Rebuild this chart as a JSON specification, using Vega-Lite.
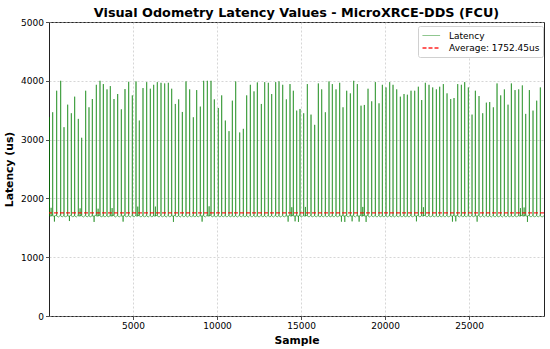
{
"$schema": "https://vega.github.io/schema/vega-lite/v6.json",
"width": 495,
"height": 294,
"autosize": {"type": "none"},
"padding": {"left": 49, "top": 22, "right": 6, "bottom": 33},
"background": "white",
"title": {"text": "Visual Odometry Latency Values - MicroXRCE-DDS (FCU)", "fontSize": 12.8, "fontWeight": "bold", "color": "black", "anchor": "middle", "offset": -2, "font": "DejaVu Sans"},
"config": {
  "font": "DejaVu Sans",
  "view": {"stroke": "#222", "strokeWidth": 1},
  "axis": {"domain": false, "grid": true, "gridDash": [2, 2], "gridColor": "#bbbbbb", "gridWidth": 0.6, "tickColor": "#222", "tickSize": 3.5, "tickWidth": 0.8, "labelFontSize": 9, "labelColor": "black", "labelPadding": 2, "titleFontSize": 10.8, "titleFontWeight": "bold", "titleColor": "black"},
  "legend": {"orient": "none", "legendX": 369, "legendY": 4, "padding": 3.5, "strokeColor": "#d0d0d0", "fillColor": "white", "cornerRadius": 2, "labelFontSize": 9, "labelColor": "black", "symbolType": "M-1,0H2.2", "symbolSize": 121, "rowPadding": 1, "labelOffset": 14.5}
},
"datasets": {
"latency": [
{"sample":0,"latency":1700},
{"sample":19,"latency":1716},{"sample":20,"latency":3380},{"sample":21,"latency":1700},{"sample":124,"latency":1700},{"sample":125,"latency":1840},{"sample":126,"latency":1700},
{"sample":217,"latency":1716},{"sample":218,"latency":3465},{"sample":219,"latency":1700},{"sample":322,"latency":1700},{"sample":323,"latency":1606},{"sample":324,"latency":1700},
{"sample":455,"latency":1716},{"sample":456,"latency":3831},{"sample":457,"latency":1700},{"sample":561,"latency":1684},
{"sample":693,"latency":1716},{"sample":694,"latency":4000},{"sample":695,"latency":1700},{"sample":799,"latency":1684},
{"sample":892,"latency":1716},{"sample":893,"latency":3211},{"sample":894,"latency":1700},{"sample":998,"latency":1684},
{"sample":1110,"latency":1716},{"sample":1111,"latency":3594},{"sample":1112,"latency":1700},{"sample":1215,"latency":1700},{"sample":1216,"latency":1615},{"sample":1217,"latency":1700},
{"sample":1328,"latency":1716},{"sample":1329,"latency":3448},{"sample":1330,"latency":1700},{"sample":1434,"latency":1684},
{"sample":1526,"latency":1716},{"sample":1527,"latency":3730},{"sample":1528,"latency":1700},{"sample":1632,"latency":1684},
{"sample":1745,"latency":1716},{"sample":1746,"latency":3352},{"sample":1747,"latency":1700},{"sample":1850,"latency":1700},{"sample":1851,"latency":1830},{"sample":1852,"latency":1700},
{"sample":1943,"latency":1716},{"sample":1944,"latency":3031},{"sample":1945,"latency":1700},{"sample":2049,"latency":1684},
{"sample":2181,"latency":1716},{"sample":2182,"latency":3831},{"sample":2183,"latency":1700},{"sample":2287,"latency":1684},
{"sample":2379,"latency":1716},{"sample":2380,"latency":3549},{"sample":2381,"latency":1700},{"sample":2485,"latency":1684},
{"sample":2578,"latency":1716},{"sample":2579,"latency":3690},{"sample":2580,"latency":1700},{"sample":2683,"latency":1700},{"sample":2684,"latency":1600},{"sample":2685,"latency":1700},
{"sample":2816,"latency":1716},{"sample":2817,"latency":3932},{"sample":2818,"latency":1700},{"sample":2921,"latency":1700},{"sample":2922,"latency":1825},{"sample":2923,"latency":1700},
{"sample":3034,"latency":1716},{"sample":3035,"latency":4000},{"sample":3036,"latency":1700},{"sample":3140,"latency":1684},
{"sample":3233,"latency":1716},{"sample":3234,"latency":3944},{"sample":3235,"latency":1700},{"sample":3339,"latency":1684},
{"sample":3451,"latency":1716},{"sample":3452,"latency":3854},{"sample":3453,"latency":1700},{"sample":3557,"latency":1684},
{"sample":3649,"latency":1716},{"sample":3650,"latency":3910},{"sample":3651,"latency":1700},{"sample":3754,"latency":1700},{"sample":3755,"latency":1835},{"sample":3756,"latency":1700},
{"sample":3867,"latency":1716},{"sample":3868,"latency":3690},{"sample":3869,"latency":1700},{"sample":3973,"latency":1684},
{"sample":4086,"latency":1716},{"sample":4087,"latency":3775},{"sample":4088,"latency":1700},{"sample":4192,"latency":1684},
{"sample":4304,"latency":1716},{"sample":4305,"latency":3515},{"sample":4306,"latency":1700},{"sample":4409,"latency":1700},{"sample":4410,"latency":1605},{"sample":4411,"latency":1700},
{"sample":4522,"latency":1716},{"sample":4523,"latency":3859},{"sample":4524,"latency":1700},{"sample":4628,"latency":1684},
{"sample":4740,"latency":1716},{"sample":4741,"latency":3983},{"sample":4742,"latency":1700},{"sample":4846,"latency":1684},
{"sample":4959,"latency":1716},{"sample":4960,"latency":3752},{"sample":4961,"latency":1700},{"sample":5065,"latency":1684},
{"sample":5177,"latency":1716},{"sample":5178,"latency":3989},{"sample":5179,"latency":1700},{"sample":5282,"latency":1700},{"sample":5283,"latency":1860},{"sample":5284,"latency":1700},
{"sample":5375,"latency":1716},{"sample":5376,"latency":3324},{"sample":5377,"latency":1700},{"sample":5481,"latency":1684},
{"sample":5594,"latency":1716},{"sample":5595,"latency":3876},{"sample":5596,"latency":1700},{"sample":5700,"latency":1684},
{"sample":5812,"latency":1716},{"sample":5813,"latency":3977},{"sample":5814,"latency":1700},{"sample":5918,"latency":1684},
{"sample":6030,"latency":1716},{"sample":6031,"latency":3865},{"sample":6032,"latency":1700},{"sample":6136,"latency":1684},
{"sample":6228,"latency":1716},{"sample":6229,"latency":3932},{"sample":6230,"latency":1700},{"sample":6333,"latency":1700},{"sample":6334,"latency":1860},{"sample":6335,"latency":1700},
{"sample":6447,"latency":1716},{"sample":6448,"latency":3977},{"sample":6449,"latency":1700},{"sample":6553,"latency":1684},
{"sample":6665,"latency":1716},{"sample":6666,"latency":3966},{"sample":6667,"latency":1700},{"sample":6771,"latency":1684},
{"sample":6883,"latency":1716},{"sample":6884,"latency":3955},{"sample":6885,"latency":1700},{"sample":6989,"latency":1684},
{"sample":7101,"latency":1716},{"sample":7102,"latency":3966},{"sample":7103,"latency":1700},{"sample":7207,"latency":1684},
{"sample":7300,"latency":1716},{"sample":7301,"latency":3865},{"sample":7302,"latency":1700},{"sample":7405,"latency":1700},{"sample":7406,"latency":1600},{"sample":7407,"latency":1700},
{"sample":7518,"latency":1716},{"sample":7519,"latency":3606},{"sample":7520,"latency":1700},{"sample":7624,"latency":1684},
{"sample":7716,"latency":1716},{"sample":7717,"latency":3684},{"sample":7718,"latency":1700},{"sample":7822,"latency":1684},
{"sample":7935,"latency":1716},{"sample":7936,"latency":3470},{"sample":7937,"latency":1700},{"sample":8041,"latency":1684},
{"sample":8153,"latency":1716},{"sample":8154,"latency":3989},{"sample":8155,"latency":1700},{"sample":8259,"latency":1684},
{"sample":8371,"latency":1716},{"sample":8372,"latency":3854},{"sample":8373,"latency":1700},{"sample":8477,"latency":1684},
{"sample":8589,"latency":1716},{"sample":8590,"latency":3380},{"sample":8591,"latency":1700},{"sample":8695,"latency":1684},
{"sample":8788,"latency":1716},{"sample":8789,"latency":3842},{"sample":8790,"latency":1700},{"sample":8894,"latency":1684},
{"sample":9006,"latency":1716},{"sample":9007,"latency":3561},{"sample":9008,"latency":1700},{"sample":9111,"latency":1700},{"sample":9112,"latency":1605},{"sample":9113,"latency":1700},
{"sample":9204,"latency":1716},{"sample":9205,"latency":4000},{"sample":9206,"latency":1700},{"sample":9310,"latency":1684},
{"sample":9423,"latency":1716},{"sample":9424,"latency":4000},{"sample":9425,"latency":1700},{"sample":9528,"latency":1700},{"sample":9529,"latency":1865},{"sample":9530,"latency":1700},
{"sample":9641,"latency":1716},{"sample":9642,"latency":4000},{"sample":9643,"latency":1700},{"sample":9747,"latency":1684},
{"sample":9839,"latency":1716},{"sample":9840,"latency":3684},{"sample":9841,"latency":1700},{"sample":9945,"latency":1684},
{"sample":10077,"latency":1716},{"sample":10078,"latency":3538},{"sample":10079,"latency":1700},{"sample":10183,"latency":1684},
{"sample":10276,"latency":1716},{"sample":10277,"latency":3752},{"sample":10278,"latency":1700},{"sample":10382,"latency":1684},
{"sample":10494,"latency":1716},{"sample":10495,"latency":3324},{"sample":10496,"latency":1700},{"sample":10600,"latency":1684},
{"sample":10712,"latency":1716},{"sample":10713,"latency":3144},{"sample":10714,"latency":1700},{"sample":10818,"latency":1684},
{"sample":10911,"latency":1716},{"sample":10912,"latency":3662},{"sample":10913,"latency":1700},{"sample":11017,"latency":1684},
{"sample":11109,"latency":1716},{"sample":11110,"latency":3989},{"sample":11111,"latency":1700},{"sample":11215,"latency":1684},
{"sample":11347,"latency":1716},{"sample":11348,"latency":3121},{"sample":11349,"latency":1700},{"sample":11453,"latency":1684},
{"sample":11565,"latency":1716},{"sample":11566,"latency":3183},{"sample":11567,"latency":1700},{"sample":11671,"latency":1684},
{"sample":11764,"latency":1716},{"sample":11765,"latency":3752},{"sample":11766,"latency":1700},{"sample":11870,"latency":1684},
{"sample":11982,"latency":1716},{"sample":11983,"latency":3932},{"sample":11984,"latency":1700},{"sample":12088,"latency":1684},
{"sample":12200,"latency":1716},{"sample":12201,"latency":3820},{"sample":12202,"latency":1700},{"sample":12306,"latency":1684},
{"sample":12399,"latency":1716},{"sample":12400,"latency":3972},{"sample":12401,"latency":1700},{"sample":12505,"latency":1684},
{"sample":12637,"latency":1716},{"sample":12638,"latency":3606},{"sample":12639,"latency":1700},{"sample":12743,"latency":1684},
{"sample":12835,"latency":1716},{"sample":12836,"latency":3977},{"sample":12837,"latency":1700},{"sample":12941,"latency":1684},
{"sample":13053,"latency":1716},{"sample":13054,"latency":3966},{"sample":13055,"latency":1700},{"sample":13159,"latency":1684},
{"sample":13252,"latency":1716},{"sample":13253,"latency":3775},{"sample":13254,"latency":1700},{"sample":13358,"latency":1684},
{"sample":13490,"latency":1716},{"sample":13491,"latency":3977},{"sample":13492,"latency":1700},{"sample":13596,"latency":1684},
{"sample":13688,"latency":1716},{"sample":13689,"latency":3989},{"sample":13690,"latency":1700},{"sample":13794,"latency":1684},
{"sample":13907,"latency":1716},{"sample":13908,"latency":3932},{"sample":13909,"latency":1700},{"sample":14013,"latency":1684},
{"sample":14125,"latency":1716},{"sample":14126,"latency":3684},{"sample":14127,"latency":1700},{"sample":14230,"latency":1700},{"sample":14231,"latency":1605},{"sample":14232,"latency":1700},
{"sample":14343,"latency":1716},{"sample":14344,"latency":3944},{"sample":14345,"latency":1700},{"sample":14448,"latency":1700},{"sample":14449,"latency":1850},{"sample":14450,"latency":1700},
{"sample":14541,"latency":1716},{"sample":14542,"latency":3831},{"sample":14543,"latency":1700},{"sample":14646,"latency":1700},{"sample":14647,"latency":1610},{"sample":14648,"latency":1700},
{"sample":14740,"latency":1716},{"sample":14741,"latency":3493},{"sample":14742,"latency":1700},{"sample":14845,"latency":1700},{"sample":14846,"latency":1600},{"sample":14847,"latency":1700},
{"sample":14938,"latency":1716},{"sample":14939,"latency":3521},{"sample":14940,"latency":1700},{"sample":15044,"latency":1684},
{"sample":15156,"latency":1716},{"sample":15157,"latency":3448},{"sample":15158,"latency":1700},{"sample":15261,"latency":1700},{"sample":15262,"latency":1855},{"sample":15263,"latency":1700},
{"sample":15375,"latency":1716},{"sample":15376,"latency":3944},{"sample":15377,"latency":1700},{"sample":15481,"latency":1684},
{"sample":15593,"latency":1716},{"sample":15594,"latency":3425},{"sample":15595,"latency":1700},{"sample":15699,"latency":1684},
{"sample":15811,"latency":1716},{"sample":15812,"latency":3251},{"sample":15813,"latency":1700},{"sample":15917,"latency":1684},
{"sample":16029,"latency":1716},{"sample":16030,"latency":3955},{"sample":16031,"latency":1700},{"sample":16135,"latency":1684},
{"sample":16228,"latency":1716},{"sample":16229,"latency":3854},{"sample":16230,"latency":1700},{"sample":16334,"latency":1684},
{"sample":16446,"latency":1716},{"sample":16447,"latency":3465},{"sample":16448,"latency":1700},{"sample":16552,"latency":1684},
{"sample":16664,"latency":1716},{"sample":16665,"latency":3989},{"sample":16666,"latency":1700},{"sample":16770,"latency":1684},
{"sample":16863,"latency":1716},{"sample":16864,"latency":3944},{"sample":16865,"latency":1700},{"sample":16969,"latency":1684},
{"sample":17081,"latency":1716},{"sample":17082,"latency":3854},{"sample":17083,"latency":1700},{"sample":17187,"latency":1684},
{"sample":17299,"latency":1716},{"sample":17300,"latency":3966},{"sample":17301,"latency":1700},{"sample":17404,"latency":1700},{"sample":17405,"latency":1605},{"sample":17406,"latency":1700},
{"sample":17498,"latency":1716},{"sample":17499,"latency":3549},{"sample":17500,"latency":1700},{"sample":17603,"latency":1700},{"sample":17604,"latency":1600},{"sample":17605,"latency":1700},
{"sample":17716,"latency":1716},{"sample":17717,"latency":3831},{"sample":17718,"latency":1700},{"sample":17822,"latency":1684},
{"sample":17934,"latency":1716},{"sample":17935,"latency":3786},{"sample":17936,"latency":1700},{"sample":18039,"latency":1700},{"sample":18040,"latency":1610},{"sample":18041,"latency":1700},
{"sample":18132,"latency":1716},{"sample":18133,"latency":4000},{"sample":18134,"latency":1700},{"sample":18238,"latency":1684},
{"sample":18351,"latency":1716},{"sample":18352,"latency":3944},{"sample":18353,"latency":1700},{"sample":18456,"latency":1700},{"sample":18457,"latency":1605},{"sample":18458,"latency":1700},
{"sample":18569,"latency":1716},{"sample":18570,"latency":3577},{"sample":18571,"latency":1700},{"sample":18674,"latency":1700},{"sample":18675,"latency":1855},{"sample":18676,"latency":1700},
{"sample":18767,"latency":1716},{"sample":18768,"latency":3589},{"sample":18769,"latency":1700},{"sample":18872,"latency":1700},{"sample":18873,"latency":1600},{"sample":18874,"latency":1700},
{"sample":18986,"latency":1716},{"sample":18987,"latency":3865},{"sample":18988,"latency":1700},{"sample":19092,"latency":1684},
{"sample":19204,"latency":1716},{"sample":19205,"latency":3651},{"sample":19206,"latency":1700},{"sample":19310,"latency":1684},
{"sample":19422,"latency":1716},{"sample":19423,"latency":3977},{"sample":19424,"latency":1700},{"sample":19528,"latency":1684},
{"sample":19640,"latency":1716},{"sample":19641,"latency":3617},{"sample":19642,"latency":1700},{"sample":19746,"latency":1684},
{"sample":19839,"latency":1716},{"sample":19840,"latency":3932},{"sample":19841,"latency":1700},{"sample":19945,"latency":1684},
{"sample":20057,"latency":1716},{"sample":20058,"latency":3887},{"sample":20059,"latency":1700},{"sample":20163,"latency":1684},
{"sample":20275,"latency":1716},{"sample":20276,"latency":3977},{"sample":20277,"latency":1700},{"sample":20381,"latency":1684},
{"sample":20474,"latency":1716},{"sample":20475,"latency":3932},{"sample":20476,"latency":1700},{"sample":20580,"latency":1684},
{"sample":20692,"latency":1716},{"sample":20693,"latency":3854},{"sample":20694,"latency":1700},{"sample":20798,"latency":1684},
{"sample":20910,"latency":1716},{"sample":20911,"latency":3730},{"sample":20912,"latency":1700},{"sample":21016,"latency":1684},
{"sample":21128,"latency":1716},{"sample":21129,"latency":3775},{"sample":21130,"latency":1700},{"sample":21234,"latency":1684},
{"sample":21327,"latency":1716},{"sample":21328,"latency":3763},{"sample":21329,"latency":1700},{"sample":21433,"latency":1684},
{"sample":21545,"latency":1716},{"sample":21546,"latency":3831},{"sample":21547,"latency":1700},{"sample":21651,"latency":1684},
{"sample":21763,"latency":1716},{"sample":21764,"latency":3831},{"sample":21765,"latency":1700},{"sample":21868,"latency":1700},{"sample":21869,"latency":1610},{"sample":21870,"latency":1700},
{"sample":21981,"latency":1716},{"sample":21982,"latency":3899},{"sample":21983,"latency":1700},{"sample":22087,"latency":1684},
{"sample":22180,"latency":1716},{"sample":22181,"latency":3673},{"sample":22182,"latency":1700},{"sample":22285,"latency":1700},{"sample":22286,"latency":1850},{"sample":22287,"latency":1700},
{"sample":22398,"latency":1716},{"sample":22399,"latency":3966},{"sample":22400,"latency":1700},{"sample":22504,"latency":1684},
{"sample":22616,"latency":1716},{"sample":22617,"latency":3932},{"sample":22618,"latency":1700},{"sample":22722,"latency":1684},
{"sample":22835,"latency":1716},{"sample":22836,"latency":3887},{"sample":22837,"latency":1700},{"sample":22941,"latency":1684},
{"sample":23053,"latency":1716},{"sample":23054,"latency":3854},{"sample":23055,"latency":1700},{"sample":23159,"latency":1684},
{"sample":23251,"latency":1716},{"sample":23252,"latency":3899},{"sample":23253,"latency":1700},{"sample":23357,"latency":1684},
{"sample":23469,"latency":1716},{"sample":23470,"latency":3944},{"sample":23471,"latency":1700},{"sample":23575,"latency":1684},
{"sample":23688,"latency":1716},{"sample":23689,"latency":3786},{"sample":23690,"latency":1700},{"sample":23794,"latency":1684},
{"sample":23906,"latency":1716},{"sample":23907,"latency":3690},{"sample":23908,"latency":1700},{"sample":24011,"latency":1700},{"sample":24012,"latency":1605},{"sample":24013,"latency":1700},
{"sample":24104,"latency":1716},{"sample":24105,"latency":3707},{"sample":24106,"latency":1700},{"sample":24209,"latency":1700},{"sample":24210,"latency":1610},{"sample":24211,"latency":1700},
{"sample":24323,"latency":1716},{"sample":24324,"latency":3944},{"sample":24325,"latency":1700},{"sample":24429,"latency":1684},
{"sample":24541,"latency":1716},{"sample":24542,"latency":3932},{"sample":24543,"latency":1700},{"sample":24647,"latency":1684},
{"sample":24739,"latency":1716},{"sample":24740,"latency":3977},{"sample":24741,"latency":1700},{"sample":24845,"latency":1684},
{"sample":24957,"latency":1716},{"sample":24958,"latency":3887},{"sample":24959,"latency":1700},{"sample":25063,"latency":1684},
{"sample":25176,"latency":1716},{"sample":25177,"latency":3425},{"sample":25178,"latency":1700},{"sample":25282,"latency":1684},
{"sample":25374,"latency":1716},{"sample":25375,"latency":3831},{"sample":25376,"latency":1700},{"sample":25479,"latency":1700},{"sample":25480,"latency":1605},{"sample":25481,"latency":1700},
{"sample":25592,"latency":1716},{"sample":25593,"latency":3741},{"sample":25594,"latency":1700},{"sample":25698,"latency":1684},
{"sample":25811,"latency":1716},{"sample":25812,"latency":3448},{"sample":25813,"latency":1700},{"sample":25917,"latency":1684},
{"sample":26029,"latency":1716},{"sample":26030,"latency":3628},{"sample":26031,"latency":1700},{"sample":26135,"latency":1684},
{"sample":26227,"latency":1716},{"sample":26228,"latency":3639},{"sample":26229,"latency":1700},{"sample":26333,"latency":1684},
{"sample":26445,"latency":1716},{"sample":26446,"latency":3549},{"sample":26447,"latency":1700},{"sample":26551,"latency":1684},
{"sample":26664,"latency":1716},{"sample":26665,"latency":3955},{"sample":26666,"latency":1700},{"sample":26770,"latency":1684},
{"sample":26882,"latency":1716},{"sample":26883,"latency":3752},{"sample":26884,"latency":1700},{"sample":26988,"latency":1684},
{"sample":27100,"latency":1716},{"sample":27101,"latency":3854},{"sample":27102,"latency":1700},{"sample":27206,"latency":1684},
{"sample":27318,"latency":1716},{"sample":27319,"latency":3594},{"sample":27320,"latency":1700},{"sample":27424,"latency":1684},
{"sample":27517,"latency":1716},{"sample":27518,"latency":3955},{"sample":27519,"latency":1700},{"sample":27623,"latency":1684},
{"sample":27735,"latency":1716},{"sample":27736,"latency":3842},{"sample":27737,"latency":1700},{"sample":27841,"latency":1684},
{"sample":27953,"latency":1716},{"sample":27954,"latency":3854},{"sample":27955,"latency":1700},{"sample":28058,"latency":1700},{"sample":28059,"latency":1835},{"sample":28060,"latency":1700},
{"sample":28171,"latency":1716},{"sample":28172,"latency":3921},{"sample":28173,"latency":1700},{"sample":28276,"latency":1700},{"sample":28277,"latency":1845},{"sample":28278,"latency":1700},
{"sample":28370,"latency":1716},{"sample":28371,"latency":3437},{"sample":28372,"latency":1700},{"sample":28475,"latency":1700},{"sample":28476,"latency":1600},{"sample":28477,"latency":1700},
{"sample":28588,"latency":1716},{"sample":28589,"latency":3842},{"sample":28590,"latency":1700},{"sample":28694,"latency":1684},
{"sample":28806,"latency":1716},{"sample":28807,"latency":3493},{"sample":28808,"latency":1700},{"sample":28912,"latency":1684},
{"sample":29024,"latency":1716},{"sample":29025,"latency":3662},{"sample":29026,"latency":1700},{"sample":29130,"latency":1684},
{"sample":29242,"latency":1716},{"sample":29243,"latency":3887},{"sample":29244,"latency":1700},{"sample":29348,"latency":1684},
{"sample":29460,"latency":1705}
],
"average": [{"average": 1752.45}]
},
"layer": [
  {
    "data": {"name": "latency"},
    "mark": {"type": "line", "clip": true},
    "encoding": {
      "x": {"field": "sample", "type": "quantitative", "scale": {"domain": [0, 29460], "nice": false, "zero": false}, "axis": {"values": [5000, 10000, 15000, 20000, 25000], "format": "d", "title": "Sample", "titlePadding": 4}},
      "y": {"field": "latency", "type": "quantitative", "scale": {"domain": [0, 5000], "nice": false}, "axis": {"values": [0, 1000, 2000, 3000, 4000, 5000], "format": "d", "title": "Latency (us)", "titlePadding": 6}},
      "color": {"datum": "Latency", "type": "nominal", "scale": {"domain": ["Latency", "Average: 1752.45us"], "range": ["green", "red"]}, "legend": {"title": null}},
      "strokeDash": {"datum": "Latency", "type": "nominal", "scale": {"domain": ["Latency", "Average: 1752.45us"], "range": [[1, 0], [4, 2]]}, "legend": {"title": null}},
      "strokeWidth": {"datum": "Latency", "type": "ordinal", "scale": {"domain": ["Latency", "Average: 1752.45us"], "range": [0.6, 1.3]}, "legend": {"title": null}}
    }
  },
  {
    "data": {"name": "average"},
    "mark": {"type": "rule", "opacity": 0.85},
    "encoding": {
      "y": {"field": "average", "type": "quantitative"},
      "color": {"datum": "Average: 1752.45us", "type": "nominal"},
      "strokeDash": {"datum": "Average: 1752.45us", "type": "nominal"},
      "strokeWidth": {"datum": "Average: 1752.45us", "type": "ordinal"}
    }
  }
]
}
